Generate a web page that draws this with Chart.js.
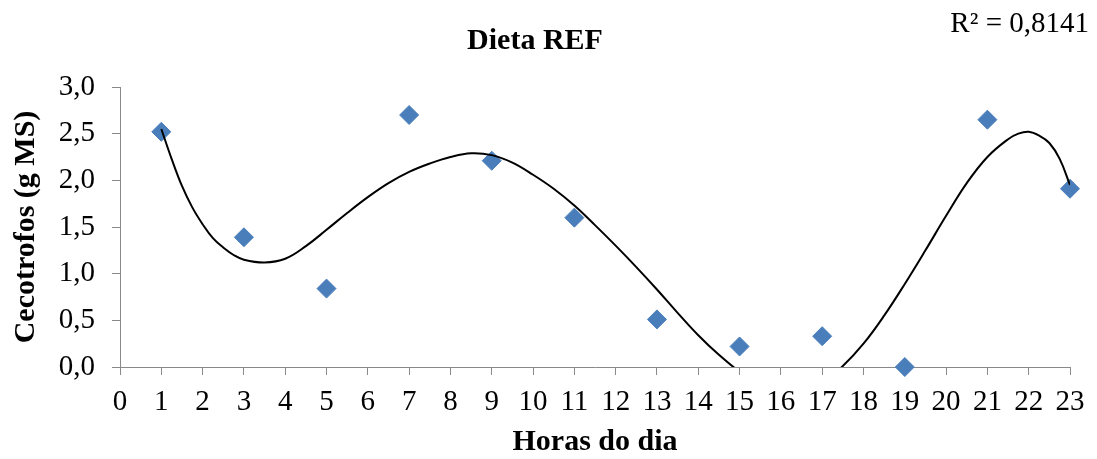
<!DOCTYPE html>
<html>
<head>
<meta charset="utf-8">
<script src="https://cdn.jsdelivr.net/npm/chart.js@4.4.1/dist/chart.umd.min.js"></script>
<style>
  html, body { margin: 0; padding: 0; background: #ffffff; }
  #wrap { position: relative; width: 1097px; height: 459px; }
</style>
</head>
<body>
<div id="wrap"><canvas id="c"></canvas></div>
<script>
// ---- data ----
const hours = [1, 3, 5, 7, 9, 11, 13, 15, 17, 19, 21, 23];
const cecotrofos = [2.52, 1.39, 0.84, 2.70, 2.21, 1.60, 0.51, 0.22, 0.33, 0.00, 2.65, 1.91];

// polynomial trendline as drawn in the reference
const trendHours = [1.0, 1.25, 1.5, 1.75, 2.0, 2.25, 2.5, 2.75, 3.0, 3.5, 4.0, 4.5, 5.0, 5.5, 6.0, 6.5, 7.0, 7.5, 8.0, 8.5, 9.0, 9.5, 10.0, 10.5, 11.0, 11.5, 12.0, 12.5, 13.0, 13.5, 14.0, 14.5, 15.0, 15.5, 16.0, 16.5, 17.0, 17.5, 18.0, 18.5, 19.0, 19.5, 20.0, 20.5, 21.0, 21.5, 21.75, 22.0, 22.25, 22.5, 22.75, 23.0];
const trendValues = [2.55, 2.23, 1.94, 1.71, 1.53, 1.38, 1.28, 1.20, 1.15, 1.12, 1.16, 1.295, 1.47, 1.65, 1.82, 1.97, 2.09, 2.18, 2.25, 2.29, 2.27, 2.19, 2.06, 1.91, 1.73, 1.52, 1.30, 1.07, 0.83, 0.58, 0.34, 0.13, -0.05, -0.19, -0.27, -0.27, -0.17, 0.01, 0.25, 0.55, 0.89, 1.25, 1.62, 1.97, 2.25, 2.44, 2.50, 2.52, 2.48, 2.40, 2.23, 1.95];

const xTickLabels = ['0','1','2','3','4','5','6','7','8','9','10','11','12','13','14','15','16','17','18','19','20','21','22','23'];
const yTickLabels = ['0,0','0,5','1,0','1,5','2,0','2,5','3,0'];

const chartTitle = 'Dieta REF';
const xTitle = 'Horas do dia';
const yTitle = 'Cecotrofos (g MS)';
const r2Label = 'R² = 0,8141';

// ---- chart ----
const axisGray = '#898989';
const serif = "'Liberation Serif', 'Times New Roman', serif";

const r2Plugin = {
  id: 'r2text',
  afterDraw(chart) {
    const ctx = chart.ctx;
    ctx.save();
    ctx.font = "29px " + serif;
    ctx.fillStyle = '#000000';
    ctx.textAlign = 'right';
    ctx.textBaseline = 'middle';
    ctx.fillText(r2Label, 1089, 24);
    ctx.restore();
  }
};

new Chart(document.getElementById('c'), {
  type: 'scatter',
  data: {
    datasets: [
      {
        label: 'Tendência',
        data: trendHours.map((h, i) => ({ x: h, y: trendValues[i] })),
        showLine: true,
        borderColor: '#000000',
        borderWidth: 2,
        pointRadius: 0,
        pointHoverRadius: 0,
        tension: 0.4,
        fill: false,
        clip: 0
      },
      {
        label: 'Cecotrofos',
        data: hours.map((h, i) => ({ x: h, y: cecotrofos[i] })),
        pointStyle: 'rectRot',
        pointRadius: 9.5,
        pointHoverRadius: 9.5,
        backgroundColor: '#4A7EBB',
        borderColor: '#4A7EBB',
        borderWidth: 1,
        showLine: false,
        clip: false
      }
    ]
  },
  options: {
    responsive: true,
    maintainAspectRatio: false,
    devicePixelRatio: 1,
    animation: false,
    events: [],
    layout: { padding: { top: 0, left: 0, right: 27, bottom: 0 } },
    plugins: {
      legend: { display: false },
      tooltip: { enabled: false },
      title: {
        display: true,
        text: chartTitle,
        color: '#000000',
        font: { family: serif, size: 30, weight: 'bold', lineHeight: 1.0 },
        padding: { top: 26, bottom: 31 }
      }
    },
    scales: {
      x: {
        type: 'linear',
        min: 0,
        max: 23,
        afterFit(scale) { scale.height = 92; },
        afterBuildTicks(scale) {
          scale.ticks = xTickLabels.map((_, i) => ({ value: i }));
        },
        ticks: {
          autoSkip: false,
          maxRotation: 0,
          minRotation: 0,
          padding: 9.6,
          color: '#000000',
          font: { family: serif, size: 29, lineHeight: 1.2 },
          callback: (v, i) => xTickLabels[i]
        },
        grid: {
          drawOnChartArea: false,
          drawTicks: true,
          tickLength: 8,
          color: axisGray,
          lineWidth: 1
        },
        border: { display: true, color: axisGray, width: 1 },
        title: {
          display: true,
          text: xTitle,
          color: '#000000',
          font: { family: serif, size: 30, weight: 'bold', lineHeight: 1.0 },
          padding: { top: 0, bottom: 2 }
        }
      },
      y: {
        type: 'linear',
        min: 0,
        max: 3,
        afterFit(scale) { scale.width = 120; },
        afterBuildTicks(scale) {
          scale.ticks = yTickLabels.map((_, i) => ({ value: i * 0.5 }));
        },
        ticks: {
          padding: 17,
          color: '#000000',
          font: { family: serif, size: 29, lineHeight: 1.2 },
          callback: (v, i) => yTickLabels[i]
        },
        grid: {
          drawOnChartArea: false,
          drawTicks: true,
          tickLength: 8,
          color: axisGray,
          lineWidth: 1
        },
        border: { display: true, color: axisGray, width: 1 },
        title: {
          display: true,
          text: yTitle,
          color: '#000000',
          font: { family: serif, size: 30, weight: 'bold', lineHeight: 1.0 },
          padding: { top: 11, bottom: 0 }
        }
      }
    }
  },
  plugins: [r2Plugin]
});
</script>
</body>
</html>
